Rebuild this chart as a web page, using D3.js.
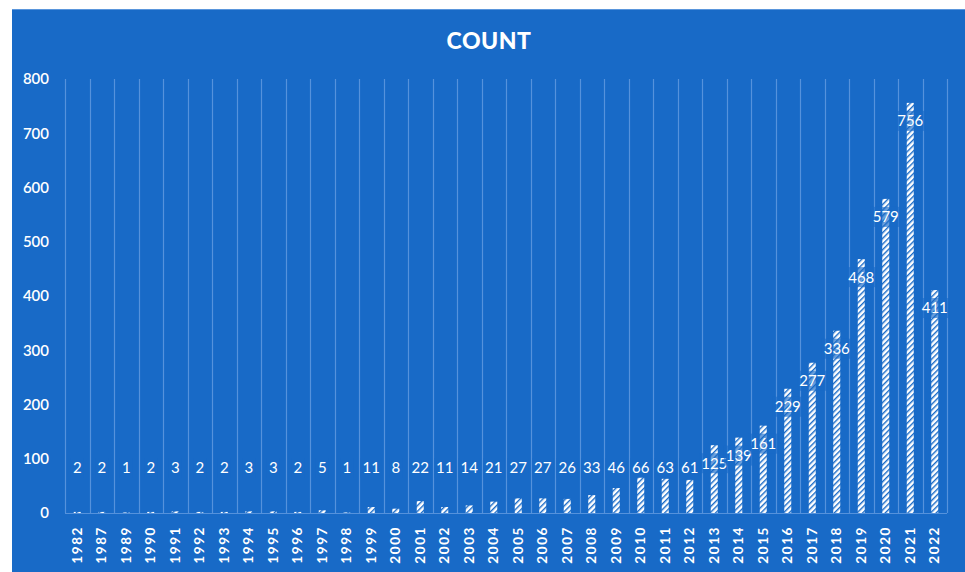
<!DOCTYPE html>
<html>
<head>
<meta charset="utf-8">
<script src="https://cdnjs.cloudflare.com/ajax/libs/d3/7.8.5/d3.min.js"></script>
<style>
  body { margin: 0; background: #fff; }
  svg { display: block; font-family: Lato, "Open Sans", sans-serif; }
</style>
</head>
<body>
<svg width="965" height="572"></svg>
<script>
var svg = d3.select("svg"),
    width = +svg.attr("width"),
    height = +svg.attr("height");

var years = ["1982","1987","1989","1990","1991","1992","1993","1994","1995","1996","1997","1998","1999",
    "2000","2001","2002","2003","2004","2005","2006","2007","2008","2009","2010","2011","2012",
    "2013","2014","2015","2016","2017","2018","2019","2020","2021","2022"];
var counts = [2,2,1,2,3,2,2,3,3,2,5,1,11,8,22,11,14,21,27,27,26,33,46,66,63,61,
    125,139,161,229,277,336,468,579,756,411];
var yTicks = [0,100,200,300,400,500,600,700,800];

var blue = "#186ac7",
    grid = "#5592dc";

var margin = {left: 65, right: 18, top: 79, bottom: 59};

var x = d3.scaleBand()
    .domain(years)
    .range([margin.left, width - margin.right]);

var y = d3.scaleLinear()
    .domain([0, 800])
    .range([height - margin.bottom, margin.top]);

// hatch pattern for the bars
var defs = svg.append("defs");
var pat = defs.append("pattern")
    .attr("id", "hatch")
    .attr("patternUnits", "userSpaceOnUse")
    .attr("width", 4)
    .attr("height", 4)
    .attr("patternTransform", "rotate(45)");
pat.append("rect").attr("width", 4).attr("height", 4).attr("fill", "#fff");
pat.append("rect").attr("width", 1.4).attr("height", 4).attr("fill", blue);

// background panel
svg.append("rect")
    .attr("x", 12).attr("y", 9)
    .attr("width", width - 12).attr("height", height - 9)
    .attr("fill", blue);
svg.append("line")
    .attr("x1", 12).attr("x2", width)
    .attr("y1", 9.5).attr("y2", 9.5)
    .attr("stroke", "#5a96dc");

svg.append("text")
    .attr("x", 489).attr("y", 49)
    .attr("text-anchor", "middle")
    .attr("fill", "#fff")
    .attr("font-weight", "900")
    .attr("font-size", 23)
    .attr("letter-spacing", 0.5)
    .text("COUNT");

// vertical gridlines at category boundaries
var bounds = years.map(d => x(d)).concat([x.range()[1]]);
svg.append("g")
    .selectAll("line")
    .data(bounds)
    .enter().append("line")
    .attr("x1", d => Math.round(d) + 0.5)
    .attr("x2", d => Math.round(d) + 0.5)
    .attr("y1", y(800))
    .attr("y2", y(0))
    .attr("stroke", grid)
    .attr("stroke-width", 1.2);

svg.append("line")
    .attr("x1", x.range()[0]).attr("x2", x.range()[1])
    .attr("y1", y(0) + 0.5).attr("y2", y(0) + 0.5)
    .attr("stroke", grid);

// y axis labels
svg.append("g")
    .selectAll("text")
    .data(yTicks)
    .enter().append("text")
    .attr("x", 49)
    .attr("y", d => y(d))
    .attr("dy", "0.35em")
    .attr("text-anchor", "end")
    .attr("fill", "#fff")
    .attr("font-size", 15)
    .attr("font-weight", "600")
    .text(d => d);

// x axis labels
svg.append("g")
    .selectAll("text")
    .data(years)
    .enter().append("text")
    .attr("transform", d => "translate(" + (x(d) + x.bandwidth() / 2) + "," + (y(0) + 13) + ") rotate(-90)")
    .attr("dy", "0.35em")
    .attr("text-anchor", "end")
    .attr("fill", "#fff")
    .attr("font-size", 13.5)
    .attr("font-weight", "bold")
    .attr("letter-spacing", 1.6)
    .text(d => d);

// bars
var barW = 7;
svg.append("g")
    .selectAll("rect")
    .data(counts)
    .enter().append("rect")
    .attr("x", (d, i) => x(years[i]) + x.bandwidth() / 2 - barW / 2)
    .attr("y", d => y(d))
    .attr("width", barW)
    .attr("height", d => y(0) - y(d))
    .attr("fill", "url(#hatch)");

// data labels with semi transparent box
var labels = svg.append("g")
    .selectAll("g")
    .data(counts)
    .enter().append("g")
    .attr("transform", (d, i) => "translate(" + (x(years[i]) + x.bandwidth() / 2) + "," + Math.min(y(d) + 18, y(0) - 45) + ")");

labels.append("rect")
    .attr("x", d => -(String(d).length * 4.3 + 2))
    .attr("y", -10)
    .attr("width", d => String(d).length * 8.6 + 4)
    .attr("height", 20)
    .attr("fill", blue)
    .attr("fill-opacity", 0.65);

labels.append("text")
    .attr("dy", "0.36em")
    .attr("text-anchor", "middle")
    .attr("fill", "#fff")
    .attr("font-size", 15)
    .text(d => d);
</script>
</body>
</html>
